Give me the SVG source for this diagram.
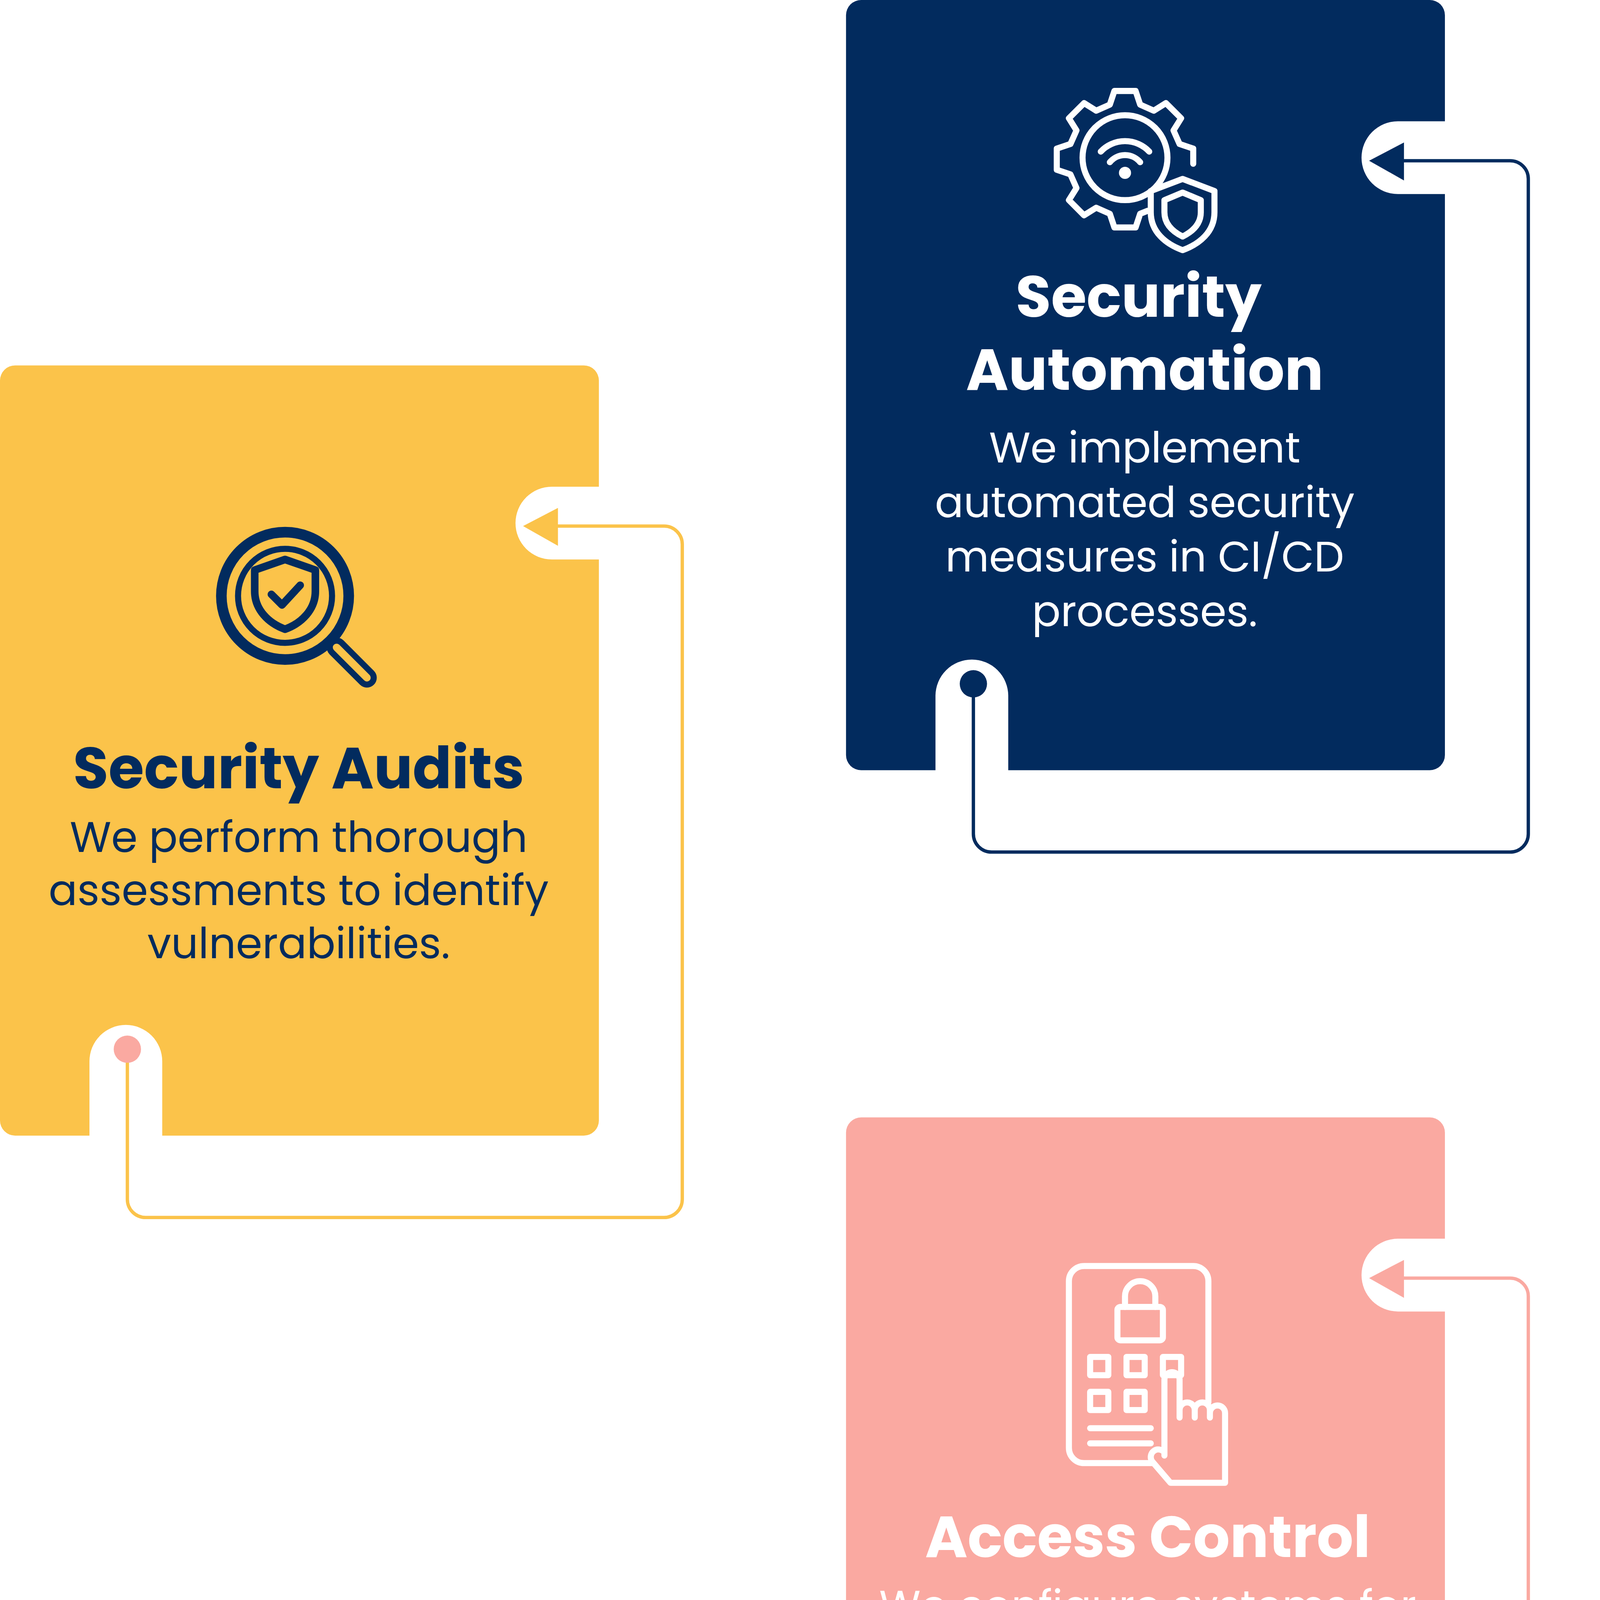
<svg xmlns="http://www.w3.org/2000/svg" width="6086" height="5054" viewBox="0 0 6086 5054">
<style>
.t{font-family:Poppins,"Noto Sans","Liberation Sans",sans-serif;font-weight:700;font-size:38px;text-anchor:middle}
.b{font-family:Poppins,"Noto Sans","Liberation Sans",sans-serif;font-size:28px;text-anchor:middle}
.ln{fill:none;stroke-width:2.2;stroke-linejoin:round}
.ic{fill:none;stroke-width:4;stroke-linecap:round;stroke-linejoin:round}
</style>
<rect width="6086" height="5054" fill="#fff"/>
<g transform="scale(3.8814)">
<g id="audits">
<rect x="0" y="241" width="395" height="508" rx="10" fill="#FBC34A"/>
<rect x="340" y="321" width="80" height="48" rx="24" fill="#fff"/>
<rect x="59" y="676" width="48" height="100" rx="24" fill="#fff"/>
<circle cx="188" cy="393" r="42" fill="none" stroke="#022B5E" stroke-width="7"/>
<circle cx="188" cy="393" r="31" fill="none" stroke="#022B5E" stroke-width="4"/>
<path d="M188 369l20 7v14c0 12-9 21-20 25c-11-4-20-13-20-25v-14z" fill="none" stroke="#022B5E" stroke-width="5" stroke-linejoin="round"/>
<path d="M179 392l7 7l12-13" fill="none" stroke="#022B5E" stroke-width="5" stroke-linecap="round" stroke-linejoin="round"/>
<line x1="222" y1="427" x2="242" y2="447" stroke="#022B5E" stroke-width="13" stroke-linecap="round"/>
<line x1="222" y1="427" x2="242" y2="447" stroke="#FBC34A" stroke-width="5" stroke-linecap="round"/>
<text class="t" x="197" y="520" fill="#022B5E">Security Audits</text>
<text class="b" x="197" y="562" fill="#022B5E">We perform thorough</text>
<text class="b" x="197" y="597" fill="#022B5E">assessments to identify</text>
<text class="b" x="197" y="632" fill="#022B5E">vulnerabilities.</text>
</g>
<g id="automation">
<rect x="558" y="0" width="395" height="508" rx="10" fill="#022B5E"/>
<rect x="898" y="80" width="80" height="48" rx="24" fill="#fff"/>
<rect x="617" y="435" width="48" height="100" rx="24" fill="#fff"/>
<g class="ic" stroke="#fff">
<path d="M735 60h14l3 9l9 4l8-5l10 10l-5 8l4 9l9 3v10M735 60l-3 9l-9 4l-8-5l-10 10l5 8l-4 9l-9 3v14l9 3l4 9l-5 8l10 10l8-5l9 4l3 9h14l3-9l5-2"/>
<circle cx="742" cy="104" r="28"/>
<path d="M726 100a22 22 0 0 1 32 0M732 107a13 13 0 0 1 20 0"/>
<circle cx="742" cy="114" r="2" fill="#fff"/>
<path d="M780 118l21 8v14c0 13-10 21-21 25c-11-4-21-12-21-25v-14z"/>
<path d="M780 127l12 5v8c0 8-6 13-12 16c-6-3-12-8-12-16v-8z"/>
</g>
<text class="t" x="751" y="209" fill="#fff">Security</text>
<text class="t" x="755" y="257" fill="#fff">Automation</text>
<text class="b" x="755" y="305" fill="#fff">We implement</text>
<text class="b" x="755" y="341" fill="#fff">automated security</text>
<text class="b" x="755" y="377" fill="#fff">measures in CI/CD</text>
<text class="b" x="755" y="413" fill="#fff">processes.</text>
</g>
<g id="compliance">
<rect x="1116" y="496" width="395" height="508" rx="10" fill="#0A80E6"/>
<rect x="1456" y="576" width="80" height="48" rx="24" fill="#fff"/>
<rect x="1175" y="931" width="48" height="100" rx="24" fill="#fff"/>
<g class="ic" stroke="#fff" stroke-width="3.5">
<circle cx="1295" cy="648" r="34" stroke-dasharray="9 5"/>
<circle cx="1295" cy="648" r="27"/>
<circle cx="1295" cy="648" r="20"/>
<path d="M1295 635l12 4v8c0 8-6 13-12 16c-6-3-12-8-12-16v-8z"/>
<path d="M1289 648l4 4l7-7"/>
<path d="M1320 625l10-14h21M1329 648h22M1320 671l10 15h21"/>
<circle cx="1358" cy="611" r="7"/><circle cx="1358" cy="648" r="7"/><circle cx="1358" cy="686" r="7"/>
</g>
<text class="t" x="1309" y="740" fill="#fff">Compliance</text>
<text class="t" x="1314" y="788" fill="#fff">Automation</text>
<text class="b" x="1314" y="830" fill="#fff">We assist in automating</text>
<text class="b" x="1314" y="865" fill="#fff">compliance with</text>
<text class="b" x="1314" y="900" fill="#fff">industry regulations.</text>
</g>
<g id="access">
<rect x="558" y="737" width="395" height="508" rx="10" fill="#FAA9A1"/>
<rect x="898" y="817" width="80" height="48" rx="24" fill="#fff"/>
<rect x="617" y="1172" width="48" height="100" rx="24" fill="#fff"/>
<g class="ic" stroke="#fff">
<path d="M760 965H715a10 10 0 0 1-10-10V845a10 10 0 0 1 10-10h72a10 10 0 0 1 10 10v80"/>
<rect x="737" y="862" width="30" height="22" rx="2"/>
<path d="M742 862v-7a10 10 0 0 1 20 0v7"/>
<rect x="719" y="895" width="12" height="12"/><rect x="743" y="895" width="12" height="12"/><rect x="767" y="895" width="12" height="12"/>
<rect x="719" y="918" width="12" height="12"/><rect x="743" y="918" width="12" height="12"/>
<path d="M719 942h40M719 952h40"/>
<path d="M768 960v-50a5 5 0 0 1 10 0v25M778 930a5 5 0 0 1 10 0v5M788 930a5 5 0 0 1 10 0v5M798 932a5 5 0 0 1 10 0v46H772l-12-14a5 5 0 0 1 8-6"/>
</g>
<text class="t" x="757" y="1027" fill="#fff">Access Control</text>
<text class="b" x="757" y="1069" fill="#fff">We configure systems for</text>
<text class="b" x="757" y="1104" fill="#fff">managing user access</text>
<text class="b" x="757" y="1139" fill="#fff">and identities.</text>
</g>
<g id="connectors">
<path class="ln" stroke="#FBC34A" d="M360 347H438a12 12 0 0 1 12 12V791a12 12 0 0 1-12 12H96a12 12 0 0 1-12-12V692"/>
<polygon points="345,347 368,335 368,360" fill="#FBC34A"/>
<circle cx="84" cy="692" r="9" fill="#FAA9A1"/>
<path class="ln" stroke="#022B5E" d="M918 106H996a12 12 0 0 1 12 12V550a12 12 0 0 1-12 12H654a12 12 0 0 1-12-12V451"/>
<polygon points="903,106 926,94 926,119" fill="#022B5E"/>
<circle cx="642" cy="451" r="9" fill="#022B5E"/>
<path class="ln" stroke="#022B5E" d="M1476 602H1554a12 12 0 0 1 12 12V1046a12 12 0 0 1-12 12H1212a12 12 0 0 1-12-12V947"/>
<polygon points="1461,602 1484,590 1484,615" fill="#022B5E"/>
<circle cx="1200" cy="947" r="9" fill="#022B5E"/>
<path class="ln" stroke="#FAA9A1" d="M918 843H996a12 12 0 0 1 12 12V1287a12 12 0 0 1-12 12H654a12 12 0 0 1-12-12V1188"/>
<polygon points="903,843 926,831 926,856" fill="#FAA9A1"/>
<circle cx="642" cy="1188" r="9" fill="#FAA9A1"/>
</g>
</g>
</svg>
